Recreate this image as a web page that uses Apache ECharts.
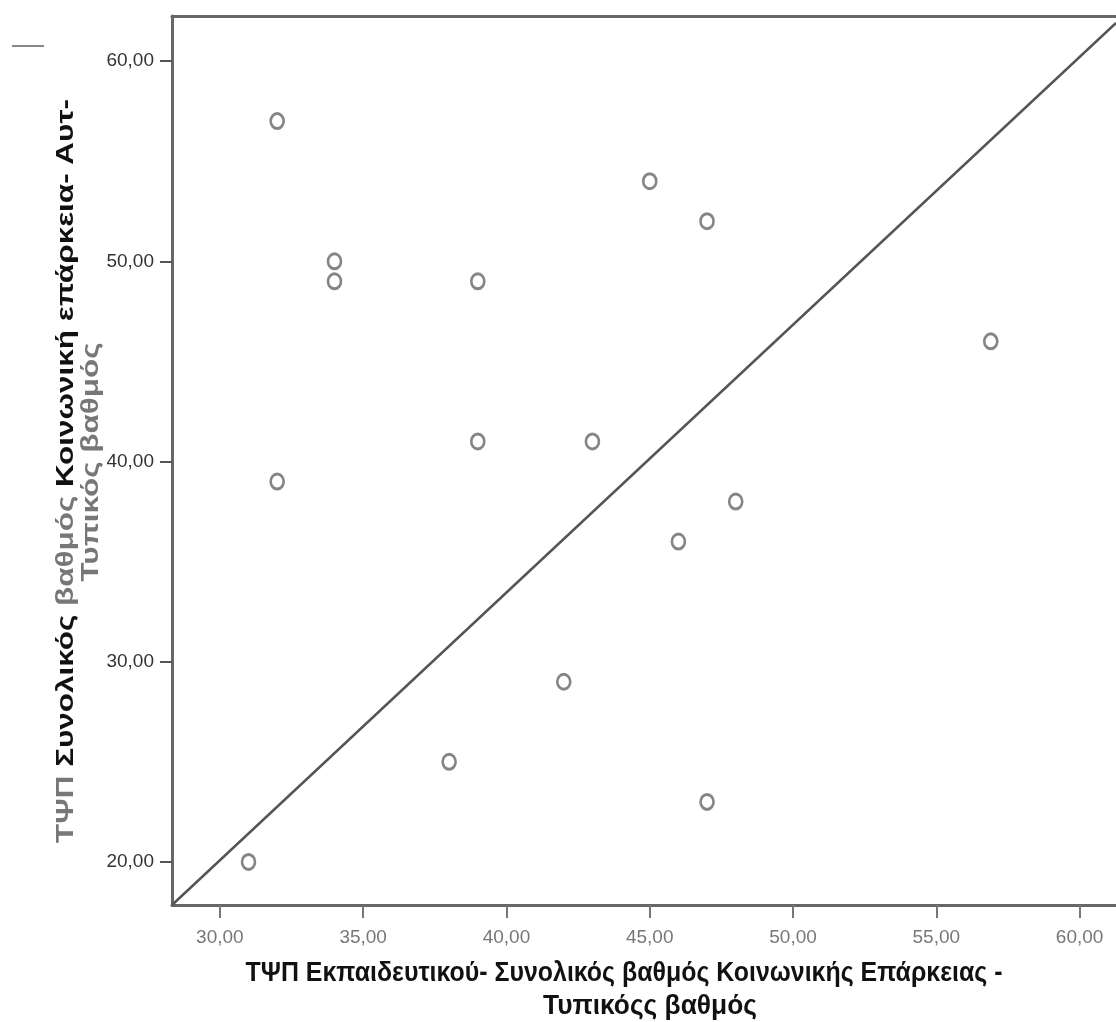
<!DOCTYPE html>
<html>
<head>
    <meta charset="UTF-8">
    <title>Scatter</title>
    <style>
        html, body { margin: 0; padding: 0; background: #fff; }
        #chart { width: 1116px; height: 1022px; }
    </style>
    <script src="https://cdn.jsdelivr.net/npm/echarts@6/dist/echarts.min.js"></script>
</head>
<body>
<div id="chart"></div>
<script type="text/javascript">
    // teacher score (x) vs self score (y)
    var teacherScore = [32, 45, 47, 34, 34, 39, 56.9, 39, 43, 32, 48, 46, 42, 38, 47, 31];
    var selfScore    = [57, 54, 52, 50, 49, 49, 46, 41, 41, 39, 38, 36, 29, 25, 23, 20];
    // reference line end points
    var refLine = [[28.33, 17.85], [61.27, 61.9]];
    var xTicks = [30, 35, 40, 45, 50, 55, 60];
    var yTicks = [20, 30, 40, 50, 60];

    var points = [];
    for (var i = 0; i < teacherScore.length; i++) {
        points.push([teacherScore[i], selfScore[i]]);
    }

    function fmt(v) {
        return v.toFixed(2).replace('.', ',');
    }

    var chart = echarts.init(document.getElementById('chart'));
    var font = 'Liberation Sans, Arial, sans-serif';

    var option = {
        animation: false,
        backgroundColor: '#fff',
        grid: { left: 172, top: 16, bottom: 117, right: 0, show: false },
        xAxis: [
            {
                type: 'value',
                min: 28.33, max: 61.27,
                splitLine: { show: false },
                axisLine: { show: true, lineStyle: { color: '#666', width: 3 } },
                axisTick: { show: true, length: 13, lineStyle: { color: '#777', width: 2 },
                    customValues: xTicks },
                axisLabel: { color: '#777', fontSize: 19, fontFamily: font, margin: 23,
                    customValues: xTicks, formatter: fmt }
            },
            {
                // top frame line
                type: 'value',
                position: 'top',
                min: 28.33, max: 61.27,
                splitLine: { show: false },
                axisLine: { show: true, lineStyle: { color: '#666', width: 3 } },
                axisTick: { show: false },
                axisLabel: { show: false }
            }
        ],
        yAxis: {
            type: 'value',
            min: 17.85, max: 62.25,
            splitLine: { show: false },
            axisLine: { show: true, lineStyle: { color: '#666', width: 3 } },
            axisTick: { show: true, length: 12, lineStyle: { color: '#555', width: 2 },
                customValues: yTicks },
            axisLabel: { color: '#333', fontSize: 19, fontFamily: font, margin: 18,
                customValues: yTicks, formatter: fmt }
        },
        series: [
            {
                type: 'line',
                data: refLine,
                symbol: 'none',
                silent: true,
                lineStyle: { color: '#555', width: 2.5 }
            },
            {
                type: 'scatter',
                data: points,
                symbol: 'circle',
                symbolSize: [13, 15],
                itemStyle: { color: '#fff', borderColor: '#666', borderWidth: 2.8 }
            }
        ],
        graphic: [
            {
                type: 'line',
                shape: { x1: 12, y1: 46, x2: 44, y2: 46 },
                style: { stroke: '#888', lineWidth: 2 }
            },
            {
                type: 'text',
                x: 624, y: 973,
                scaleX: 0.89,
                style: {
                    text: 'ΤΨΠ Εκπαιδευτικού- Συνολικός βαθμός Κοινωνικής Επάρκειας -',
                    font: 'bold 28px ' + font,
                    fill: '#111',
                    align: 'center',
                    verticalAlign: 'middle'
                }
            },
            {
                type: 'text',
                x: 650, y: 1006,
                scaleX: 0.94,
                style: {
                    text: 'Τυπικόςς βαθμός',
                    font: 'bold 28px ' + font,
                    fill: '#111',
                    align: 'center',
                    verticalAlign: 'middle'
                }
            },
            {
                type: 'text',
                x: 66, y: 471,
                rotation: Math.PI / 2,
                scaleX: 1.31,
                style: {
                    text: '{g|ΤΨΠ} Συνολικός {g|βαθμός} Κοινωνική επάρκεια- Αυτ-',
                    font: 'bold 24px ' + font,
                    fill: '#111',
                    align: 'center',
                    verticalAlign: 'middle',
                    rich: {
                        g: { font: 'bold 24px ' + font, fill: '#777' }
                    }
                }
            },
            {
                type: 'text',
                x: 91, y: 462,
                rotation: Math.PI / 2,
                scaleX: 1.31,
                style: {
                    text: 'Τυπικός βαθμός',
                    font: 'bold 24px ' + font,
                    fill: '#777',
                    align: 'center',
                    verticalAlign: 'middle'
                }
            }
        ]
    };

    chart.setOption(option);
</script>
</body>
</html>
